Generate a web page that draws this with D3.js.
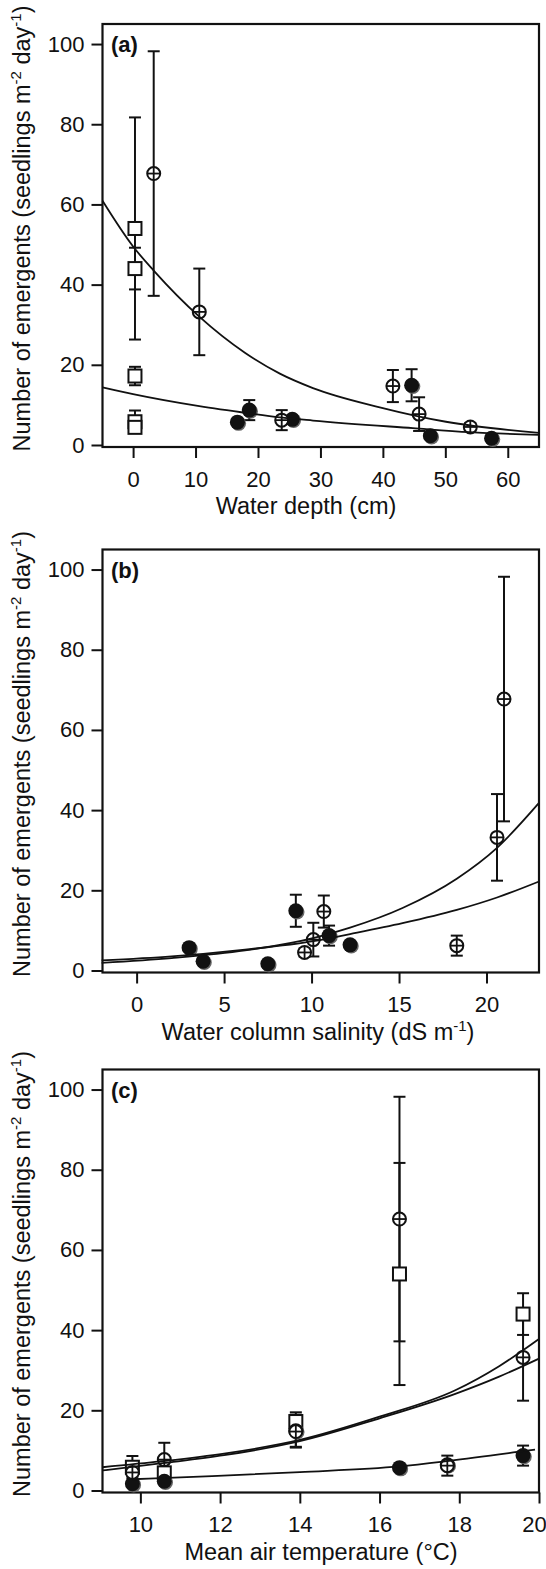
<!DOCTYPE html>
<html>
<head>
<meta charset="utf-8">
<script src="https://cdn.jsdelivr.net/npm/d3@7"></script>
<style>
  body { margin: 0; background: #fff; }
  svg { display: block; }
  text { font-family: "Liberation Sans", Arial, Helvetica, sans-serif; fill: #111; }
  .axis text { font-size: 22px; }
</style>
</head>
<body>
<script>
// open squares (no salinity values)
var sqVal = [54, 44, 17.2, 5.8, 4.4];
var sqErr = [27.7, 5.2, 2.3, 2.8, 1.2];
var sqDepth = [0.3, 0.3, 0.3, 0.3, 0.3];
var sqTemp = [16.5, 19.6, 13.9, 9.8, 10.6];

// open circles with cross
var crossVal = [67.7, 33.2, 6.2, 14.7, 7.7, 4.5];
var crossErr = [30.5, 10.8, 2.5, 4.0, 4.2, 1.0];
var crossDepth = [3.3, 10.6, 23.8, 41.6, 45.8, 54.0];
var crossSal = [21.0, 20.6, 18.3, 10.7, 10.1, 9.6];
var crossTemp = [16.5, 19.6, 17.7, 13.9, 10.6, 9.8];

// filled circles
var dotVal = [5.7, 8.7, 6.4, 14.9, 2.3, 1.7];
var dotErr = [0.5, 2.5, 0.5, 4.0, 0.5, 0.5];
var dotDepth = [16.7, 18.6, 25.5, 44.6, 47.6, 57.4];
var dotSal = [3.0, 11.0, 12.2, 9.1, 3.8, 7.5];
var dotTemp = [16.5, 19.6, 17.7, 13.9, 10.6, 9.8];

// fitted curves
var fitDepthX1 = [-4.9, 0, 3.3, 10.6, 17.9, 23.5, 28.8, 39.5, 50.1, 65];
var fitDepthY1 = [60.9, 49.5, 43.5, 32.0, 23.0, 17.8, 14.2, 9.4, 5.8, 3.0];
var fitDepthX2 = [-4.9, 0, 10.6, 18.6, 23.5, 28.8, 44.8, 53.9, 65];
var fitDepthY2 = [14.4, 12.7, 9.7, 7.9, 6.9, 6.1, 4.2, 3.2, 2.5];

var fitSalX = [-2, 2, 6.2, 10.2, 12.2, 15.2, 18.3, 20.6, 23];
var fitSalY1 = [1.9, 3.1, 5.0, 8.2, 10.7, 15.6, 22.9, 30.6, 41.8];
var fitSalY2 = [2.5, 3.5, 5.2, 7.4, 9.1, 11.8, 15.1, 18.2, 22.2];

var fitTempX = [9.05, 10.55, 12.1, 14, 16, 17.9, 19, 20];
var fitTempY1 = [5.8, 7.3, 9.2, 12.6, 18.4, 25.0, 31.0, 37.8];
var fitTempY2 = [5.0, 6.8, 8.8, 12.3, 18.0, 24.1, 28.4, 32.9];
var fitTempX3 = [9.8, 11.8, 14, 16.5, 17.75, 19.6, 19.9];
var fitTempY3 = [2.8, 3.6, 4.6, 6.0, 7.4, 9.8, 10.2];

var yTicks = [0, 20, 40, 60, 80, 100];
var depthTicks = [0, 10, 20, 30, 40, 50, 60];
var salTicks = [0, 5, 10, 15, 20];
var tempTicks = [10, 12, 14, 16, 18, 20];

var W = 546, H = 1569;
var frameLeft = 102.5, frameRight = 539, panelH = 423;

var svg = d3.select("body").append("svg")
  .attr("width", W)
  .attr("height", H);

function pts(xs, ys, es) {
  return xs.map(function(v, i) {
    return { x: v, y: ys[i], e: es ? es[i] : 0 };
  });
}

function drawPanel(p) {
  var g = svg.append("g").attr("transform", "translate(0," + p.top + ")");
  var x = d3.scaleLinear().domain(p.xDomain).range([frameLeft, frameRight]);
  var y = d3.scaleLinear().domain([-0.5, 105]).range([panelH, 0]);

  // axes, ticks point outwards
  var xg = g.append("g").attr("class", "axis")
    .attr("transform", "translate(0," + panelH + ")")
    .call(d3.axisBottom(x).tickValues(p.xTicks).tickSize(11).tickPadding(13).tickSizeOuter(0));
  g.append("g").attr("class", "axis")
    .attr("transform", "translate(" + frameLeft + ",0)")
    .call(d3.axisLeft(y).tickValues(yTicks).tickSize(11).tickPadding(7).tickSizeOuter(0));
  g.selectAll(".axis").attr("font-size", null).attr("font-family", null);
  g.selectAll(".axis .domain").remove();
  g.selectAll(".axis line").attr("stroke", "#111").attr("stroke-width", 2);
  // keep a label that sits on the right frame inside the page
  xg.selectAll(".tick text").attr("dx", function(d) {
    return x(d) > frameRight - 3 ? -5 : 0;
  });

  g.append("rect")
    .attr("x", frameLeft).attr("y", 0)
    .attr("width", frameRight - frameLeft).attr("height", panelH)
    .attr("fill", "none").attr("stroke", "#111").attr("stroke-width", 2.2);

  // error bars
  var all = p.squares.concat(p.dots, p.crosses);
  var eb = g.append("g").attr("stroke", "#111").attr("stroke-width", 2);
  all.filter(function(d) { return d.e > 0.6; }).forEach(function(d) {
    eb.append("line").attr("x1", x(d.x)).attr("x2", x(d.x))
      .attr("y1", y(d.y - d.e)).attr("y2", y(d.y + d.e));
    [d.y - d.e, d.y + d.e].forEach(function(v) {
      eb.append("line").attr("x1", x(d.x) - 6).attr("x2", x(d.x) + 6)
        .attr("y1", y(v)).attr("y2", y(v));
    });
  });

  // open squares
  g.selectAll(".sq").data(p.squares).enter().append("rect")
    .attr("x", function(d) { return x(d.x) - 6.5; })
    .attr("y", function(d) { return y(d.y) - 6.5; })
    .attr("width", 13).attr("height", 13)
    .attr("fill", "#fff").attr("stroke", "#111").attr("stroke-width", 2);

  // filled circles
  g.selectAll(".shade").data(p.dots).enter().append("circle")
    .attr("cx", function(d) { return x(d.x) + 1.2; })
    .attr("cy", function(d) { return y(d.y) + 1.2; })
    .attr("r", 7.5).attr("fill", "#666");
  g.selectAll(".dot").data(p.dots).enter().append("circle")
    .attr("cx", function(d) { return x(d.x); })
    .attr("cy", function(d) { return y(d.y); })
    .attr("r", 7.5).attr("fill", "#111");

  // circles with cross
  var cr = g.selectAll(".cross").data(p.crosses).enter().append("g")
    .attr("transform", function(d) { return "translate(" + x(d.x) + "," + y(d.y) + ")"; });
  cr.append("circle").attr("r", 6.5).attr("fill", "#fff").attr("stroke", "#111").attr("stroke-width", 2);
  cr.append("line").attr("x1", -6.5).attr("x2", 6.5).attr("stroke", "#111").attr("stroke-width", 1.8);
  cr.append("line").attr("y1", -6.5).attr("y2", 6.5).attr("stroke", "#111").attr("stroke-width", 1.8);

  // fitted curves
  var line = d3.line()
    .x(function(d) { return x(d.x); })
    .y(function(d) { return y(d.y); })
    .curve(d3.curveMonotoneX);
  p.fits.forEach(function(f) {
    g.append("path").attr("d", line(f))
      .attr("fill", "none").attr("stroke", "#111").attr("stroke-width", 1.8);
  });

  // panel letter
  g.append("text").attr("x", 111).attr("y", 28)
    .attr("font-size", 22).attr("font-weight", "bold").text(p.letter);

  // x title
  var xt = g.append("text")
    .attr("x", p.titleX).attr("y", panelH + 67)
    .attr("text-anchor", "middle").attr("font-size", 23.5);
  p.xTitle.forEach(function(part) {
    xt.append("tspan").attr("dy", part[1]).attr("font-size", part[1] < 0 ? 15 : null).text(part[0]);
  });

  // y title
  var yt = g.append("text")
    .attr("transform", "translate(30," + (panelH / 2 - 7) + ") rotate(-90)")
    .attr("text-anchor", "middle").attr("font-size", 23.5);
  yt.append("tspan").text("Number of emergents (seedlings m");
  yt.append("tspan").attr("dy", -9).attr("font-size", 15).text("-2");
  yt.append("tspan").attr("dy", 9).text(" day");
  yt.append("tspan").attr("dy", -9).attr("font-size", 15).text("-1");
  yt.append("tspan").attr("dy", 9).text(")");
}

drawPanel({
  top: 24, letter: "(a)", xDomain: [-4.9, 65], xTicks: depthTicks,
  titleX: 306,
  xTitle: [["Water depth (cm)", 0]],
  squares: pts(sqDepth, sqVal, sqErr),
  dots: pts(dotDepth, dotVal, dotErr),
  crosses: pts(crossDepth, crossVal, crossErr),
  fits: [pts(fitDepthX1, fitDepthY1), pts(fitDepthX2, fitDepthY2)]
});

drawPanel({
  top: 549.5, letter: "(b)", xDomain: [-1.95, 23], xTicks: salTicks,
  titleX: 318,
  xTitle: [["Water column salinity (dS m", 0], ["-1", -9], [")", 9]],
  squares: [],
  dots: pts(dotSal, dotVal, dotErr),
  crosses: pts(crossSal, crossVal, crossErr),
  fits: [pts(fitSalX, fitSalY1), pts(fitSalX, fitSalY2)]
});

drawPanel({
  top: 1069.5, letter: "(c)", xDomain: [9.05, 20], xTicks: tempTicks,
  titleX: 321,
  xTitle: [["Mean air temperature (\u00B0C)", 0]],
  squares: pts(sqTemp, sqVal, sqErr),
  dots: pts(dotTemp, dotVal, dotErr),
  crosses: pts(crossTemp, crossVal, crossErr),
  fits: [pts(fitTempX, fitTempY1), pts(fitTempX, fitTempY2), pts(fitTempX3, fitTempY3)]
});
</script>
</body>
</html>
